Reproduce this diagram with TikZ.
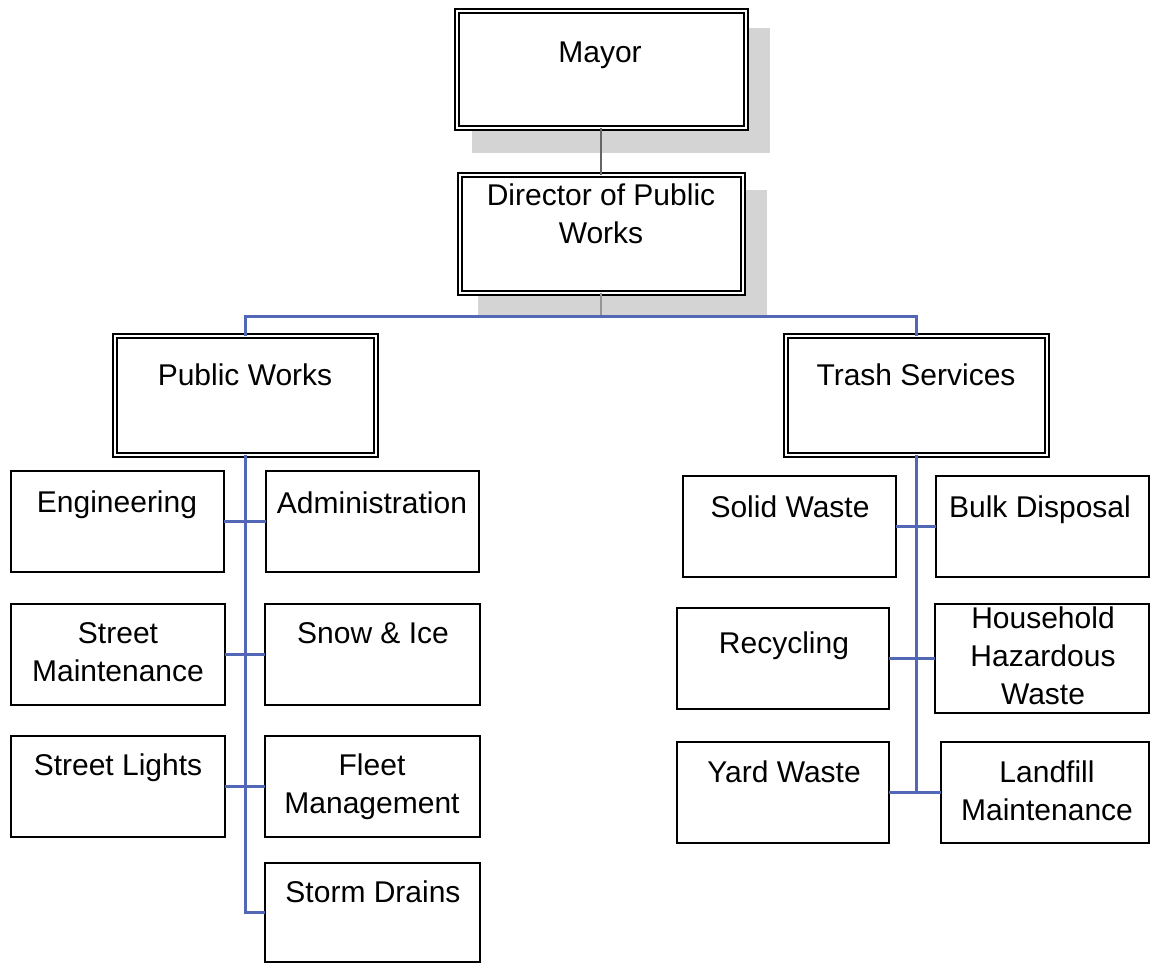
\documentclass[tikz,border=0pt]{standalone}
\usepackage{fontspec}
\setmainfont{Liberation Sans}
\newcommand\mlines[1]{\vtop{\halign{\hfil##\hfil\cr#1\cr}}}
\definecolor{linkblue}{RGB}{82,104,182}
\definecolor{topconn}{RGB}{100,100,100}
\definecolor{shadowc}{RGB}{212,212,212}
\definecolor{midconn}{RGB}{150,150,150}
\begin{document}
\begin{tikzpicture}[x=1pt,y=-1pt,
  box/.style={draw=black, line width=2.2pt, fill=white, inner sep=0pt, outer sep=0pt},
  dbox/.style={draw=black, double=white, double distance=2pt, line width=2pt, fill=white, inner sep=0pt, outer sep=0pt},
  lbl/.style={anchor=base, inner sep=0pt, text=black, font=\fontsize{30}{38}\selectfont},
  conn/.style={draw=linkblue, line width=3pt},
  ]
\useasboundingbox (0,0) rectangle (1153,964);
\fill[white] (0,0) rectangle (1153,964);

% shadows
\fill[shadowc] (472,28) rectangle (770,153);
\fill[shadowc] (478,190) rectangle (767,315);

% anchor coordinates for the bus
\coordinate (busL) at (245,316);
\coordinate (busR) at (916,316);

% boxes
\node[dbox, minimum width=289, minimum height=117] (mayor) at (601,69) {};
\node[dbox, minimum width=283, minimum height=118] (dir) at (601,233.5) {};
\node[dbox, minimum width=261, minimum height=119] (pw) at (245,395) {};
\node[dbox, minimum width=261, minimum height=119] (ts) at (916,395) {};

% connectors
\draw[topconn, line width=2pt] (mayor.south) -- (dir.north);
\draw[midconn, line width=2pt] (dir.south) -- (dir.south |- busL);
\draw[conn] (pw.north) -- (busL) -- (busR) -- (ts.north);

\node[box, minimum width=213, minimum height=101] (eng) at (117.5,521.5) {};
\node[box, minimum width=213, minimum height=101] (adm) at (372.5,521.5) {};
\node[box, minimum width=214, minimum height=101] (sm) at (118,654.5) {};
\node[box, minimum width=215, minimum height=101] (si) at (372.5,654.5) {};
\node[box, minimum width=214, minimum height=101] (sl) at (118,786.5) {};
\node[box, minimum width=215, minimum height=101] (fm) at (372.5,786.5) {};
\node[box, minimum width=215, minimum height=99] (sd) at (372.5,912.5) {};

\node[box, minimum width=213, minimum height=101] (sw) at (789.5,526.5) {};
\node[box, minimum width=213, minimum height=101] (bd) at (1042.5,526.5) {};
\node[box, minimum width=212, minimum height=101] (rc) at (783,658.5) {};
\node[box, minimum width=214, minimum height=109] (hh) at (1042,658.5) {};
\node[box, minimum width=212, minimum height=101] (yw) at (783,792.5) {};
\node[box, minimum width=208, minimum height=101] (lf) at (1045,792.5) {};

% branch connectors
\draw[conn] (pw.south) |- (sd.west);
\draw[conn] (eng.east) -- (adm.west);
\draw[conn] (sm.east) -- (si.west);
\draw[conn] (sl.east) -- (fm.west);
\draw[conn] (ts.south) |- (lf.west);
\draw[conn] (sw.east) -- (bd.west);
\draw[conn] (rc.east) -- (hh.west);
\draw[conn] (yw.east) -- (lf.west);

% labels
\node[lbl] (mayorT) at (600,62) {Mayor};
\node[lbl] (dirT) at (601,205) {\mlines{Director of Public\cr Works}};
\node[lbl] (pwT) at (245,385) {Public Works};
\node[lbl] (tsT) at (916,385) {Trash Services};
\node[lbl] (engT) at (117,512) {Engineering};
\node[lbl] (admT) at (372,513) {Administration};
\node[lbl] (smT) at (118,643) {\mlines{Street\cr Maintenance}};
\node[lbl] (siT) at (373,643) {Snow \& Ice};
\node[lbl] (slT) at (118,775) {Street Lights};
\node[lbl] (fmT) at (372,775) {\mlines{Fleet\cr Management}};
\node[lbl] (sdT) at (373,902) {Storm Drains};
\node[lbl] (swT) at (790,517) {Solid Waste};
\node[lbl] (bdT) at (1040,517) {Bulk Disposal};
\node[lbl] (rcT) at (784,653) {Recycling};
\node[lbl] (hhT) at (1043,628) {\mlines{Household\cr Hazardous\cr Waste}};
\node[lbl] (ywT) at (784,782) {Yard Waste};
\node[lbl] (lfT) at (1047,782) {\mlines{Landfill\cr Maintenance}};
\end{tikzpicture}
\end{document}
